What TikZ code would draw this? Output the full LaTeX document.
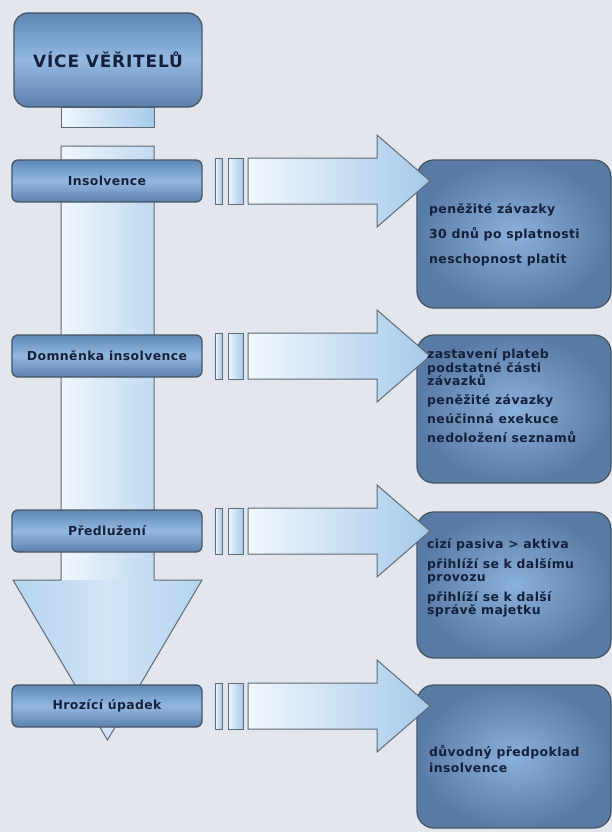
\documentclass[tikz,border=0pt]{standalone}
\usepackage{fontspec}
\setmainfont{DejaVu Sans}
\newfontfamily\lblfont[LetterSpace=3]{DejaVu Sans}
\newfontfamily\ttlfont[LetterSpace=5]{DejaVu Sans}
\definecolor{bgc}{HTML}{E3E6EC}
\definecolor{edgec}{HTML}{4A5562}
\definecolor{arrline}{HTML}{5F6A76}
\definecolor{boxlight}{HTML}{93B9E1}
\definecolor{boxdark}{HTML}{5F88B6}
\definecolor{boxdarkb}{HTML}{5A80AC}
\definecolor{rlight}{HTML}{8AB1DB}
\definecolor{rdark}{HTML}{587BA5}
\definecolor{arrL}{HTML}{F1F7FD}
\definecolor{arrR}{HTML}{A6CAEB}
\definecolor{shL}{HTML}{F0F6FC}
\definecolor{shR}{HTML}{C0DAF1}
\definecolor{hdE}{HTML}{B6D4EF}
\definecolor{hdM}{HTML}{D0E4F6}
\definecolor{txt}{HTML}{14203A}
\newcommand\harrowat[1]{%
  \begin{scope}[shift={(0,#1)}]
    \draw[arrowshape] (215,-23) rectangle (222,23);
    \draw[arrowshape] (228,-23) rectangle (243,23);
    \draw[arrowshape] (248,-23) -- (377,-23) -- (377,-46) -- (430,0)
      -- (377,46) -- (377,23) -- (248,23) -- cycle;
  \end{scope}}
\begin{document}
\begin{tikzpicture}[x=1bp,y=-1bp,
  arrowshape/.style={draw=arrline, line width=1bp, left color=arrL, right color=arrR},
  titlebox/.style={draw=edgec, line width=1.3bp, rounded corners=14bp,
    top color=boxdark, bottom color=boxdarkb, middle color=boxlight,
    minimum width=188bp, minimum height=94bp, inner sep=0pt, outer sep=0pt,
    text=txt, font=\ttlfont\bfseries\fontsize{17}{20}\selectfont},
  lbox/.style={draw=edgec, line width=1.3bp, rounded corners=6bp,
    top color=boxdark, bottom color=boxdarkb, middle color=boxlight,
    minimum width=190bp, minimum height=42bp, inner sep=0pt, outer sep=0pt,
    text=txt, font=\lblfont\bfseries\fontsize{12.5}{14}\selectfont},
  rbox/.style={draw=edgec, line width=1.3bp, rounded corners=17bp,
    inner color=rlight, outer color=rdark,
    minimum width=194bp, inner sep=0pt, outer sep=0pt},
  rtext/.style={anchor=west, align=left, inner sep=0pt, text=txt,
    font=\lblfont\bfseries\fontsize{12.5}{14}\selectfont}]
\fill[bgc] (0,0) rectangle (612,832);
\useasboundingbox (0,0) rectangle (612,832);

% vertical arrow
\path[left color=shL, right color=shR] (61,146) rectangle (154,580);
\path[left color=hdE, right color=hdE, middle color=hdM] (13,580) -- (202,580) -- (107.5,740) -- cycle;
\draw[arrline, line width=1bp] (61,146) -- (154,146) -- (154,580) -- (202,580)
  -- (107.5,740) -- (13,580) -- (61,580) -- cycle;
\draw[arrowshape] (61,107) rectangle (154,127);

% title and left boxes
\node[titlebox] (top) at (108,60) {VÍCE VĚŘITELŮ};
\node[lbox] (ins) at (107,181) {Insolvence};
\node[lbox] (dom) at (107,356) {Domněnka insolvence};
\node[lbox] (pre) at (107,531) {Předlužení};
\node[lbox] (hro) at (107,706) {Hrozící úpadek};

% right boxes
\node[rbox, minimum height=148bp] (r1) at (514,234) {};
\node[rbox, minimum height=148bp] (r2) at (514,409) {};
\node[rbox, minimum height=146bp] (r3) at (514,585) {};
\node[rbox, minimum height=143bp] (r4) at (514,756.5) {};

% horizontal arrows
\harrowat{181}
\harrowat{356}
\harrowat{531}
\harrowat{706}

% right texts
\node[rtext] (t1) at (429,235) {peněžité závazky\\[11pt]30 dnů po splatnosti\\[11pt]neschopnost platit};
\node[rtext] (t2) at (427,395.5) {zastavení plateb\\podstatné části\\závazků\\[5pt]peněžité závazky\\[5pt]neúčinná exekuce\\[5pt]nedoložení seznamů};
\node[rtext, font=\lblfont\bfseries\fontsize{12.5}{13.2}\selectfont] (t3) at (427,578) {cizí pasiva > aktiva\\[6.5pt]přihlíží se k dalšímu\\provozu\\[6.5pt]přihlíží se k další\\správě majetku};
\node[rtext] (t4) at (429,759) {důvodný předpoklad\\[2pt]insolvence};
\end{tikzpicture}
\end{document}
